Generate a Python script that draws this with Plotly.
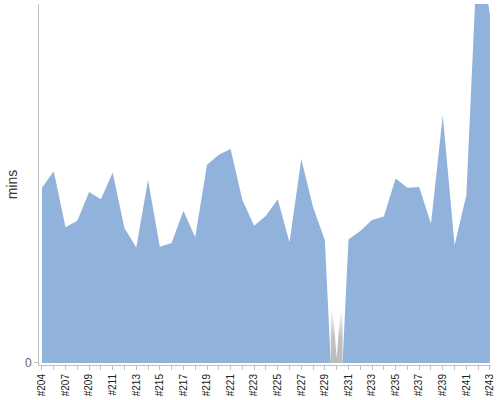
import plotly.graph_objects as go

categories = ["#204", "#205", "#207", "#208", "#209", "#210", "#211", "#212", "#213", "#214",
              "#215", "#216", "#217", "#218", "#219", "#220", "#221", "#222", "#223", "#224",
              "#225", "#226", "#227", "#228", "#229", "#230", "#231", "#232", "#233", "#234",
              "#235", "#236", "#237", "#238", "#239", "#240", "#241", "#242", "#243"]
mins = [24.4, 26.7, 18.9, 19.8, 23.8, 22.8, 26.5, 18.8, 16.1, 25.5,
        16.2, 16.7, 21.2, 17.5, 27.6, 29.0, 29.8, 22.7, 19.1, 20.5,
        22.8, 16.8, 28.4, 21.7, 17.1, None, 17.2, 18.4, 19.9, 20.4,
        25.7, 24.4, 24.5, 19.4, 34.5, 16.4, 23.4, 59.7, 48.5]
y_max = 50
missing_band_height = 7.4

# Build area outline: missing values drop to zero half a step either side
xs, ys = [], []
missing_idx = []
for i, v in enumerate(mins):
    if v is None:
        xs += [i - 0.5, i + 0.5]
        ys += [0, 0]
        missing_idx.append(i)
    else:
        xs.append(i)
        ys.append(v)

fig = go.Figure()

# grey marker for missing values
for i in missing_idx:
    fig.add_trace(go.Scatter(
        x=[i - 0.5, i + 0.5, i + 0.5, i - 0.5, i - 0.5],
        y=[0, 0, missing_band_height, missing_band_height, 0],
        mode="lines", line=dict(width=0), fill="toself",
        fillgradient=dict(type="vertical",
                          colorscale=[[0, "rgb(188,188,188)"], [0.5, "rgb(194,194,194)"],
                                      [1, "rgb(255,255,255)"]]),
        hoverinfo="skip", showlegend=False))
    fig.add_trace(go.Scatter(
        x=[i - 0.32, i, i + 0.32, i - 0.32],
        y=[missing_band_height, 0.7, missing_band_height, missing_band_height],
        mode="lines", line=dict(width=0), fill="toself", fillcolor="white",
        hoverinfo="skip", showlegend=False))

fig.add_trace(go.Scatter(
    x=xs, y=ys, mode="lines", line=dict(width=0, color="#91b3db"),
    fill="tozeroy", fillcolor="#91b3db", showlegend=False))

fig.update_layout(
    width=500, height=400,
    margin=dict(l=39, r=9, t=4, b=35),
    paper_bgcolor="white", plot_bgcolor="white",
    font=dict(family="Arial, Liberation Sans, sans-serif", color="#333"),
    showlegend=False,
)
fig.update_xaxes(
    range=[-0.25, 38.09],
    tickvals=list(range(len(categories))),
    ticktext=[c if i % 2 == 0 else "" for i, c in enumerate(categories)],
    tickangle=-90, tickfont=dict(size=10, color="#222"),
    ticks="outside", ticklen=4, tickcolor="#c0c0c0",
    showline=True, linecolor="#c0c0c0", linewidth=1,
    showgrid=False, zeroline=False, automargin=False,
)
fig.update_yaxes(
    range=[-0.28, y_max],
    tickvals=[0], ticktext=["0"],
    tickfont=dict(size=12, color="#666"),
    ticks="outside", ticklen=4, tickcolor="#c0c0c0",
    showline=True, linecolor="#c0c0c0", linewidth=1,
    showgrid=False, zeroline=False, automargin=False,
    title=dict(text="mins", font=dict(size=14, color="#333"), standoff=4),
)

fig.write_html("out.html",
               config={"displayModeBar": False},
               post_script="document.body.style.margin='0px';document.body.style.overflow='hidden';")
